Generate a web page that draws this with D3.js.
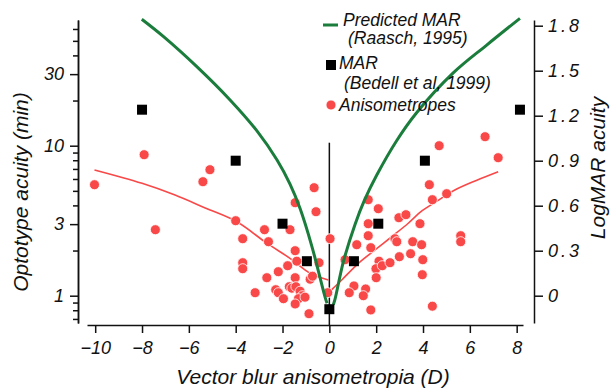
<!DOCTYPE html>
<html>
<head>
<meta charset="utf-8">
<script src="https://cdn.jsdelivr.net/npm/d3@7"></script>
<style>
  body { margin: 0; background: #fff; }
  svg { display: block; }
  text { font-family: "Liberation Sans", Arial, sans-serif; font-style: italic; fill: #111; }
</style>
</head>
<body>
<svg id="chart" width="613" height="388"></svg>
<script>
// Axis ticks
const xTicks = [-10, -8, -6, -4, -2, 0, 2, 4, 6, 8];
const leftTicks = [1, 3, 10, 30];
const leftMinorTicks = [0.7, 0.8, 0.9, 2, 4, 5, 6, 7, 8, 9, 20, 40, 50, 60];
const rightTicks = [0, 0.3, 0.6, 0.9, 1.2, 1.5, 1.8];

// Anisometropes: [vector blur (D), logMAR]
const anisometropes = [
  [-10.03, 0.74], [-7.91, 0.94], [-7.43, 0.44], [-5.40, 0.76], [-5.10, 0.84],
  [-4.00, 0.50], [-3.70, 0.38], [-3.70, 0.22], [-3.70, 0.18], [-3.17, 0.02],
  [-2.77, 0.44], [-2.60, 0.36], [-2.67, 0.12], [-2.18, 0.16], [-2.29, 0.04],
  [-2.18, 0.02], [-1.96, -0.02], [-1.78, 0.20], [-1.68, 0.44], [-1.46, 0.62],
  [-1.46, 0.30], [-1.39, 0.23], [-1.46, 0.12], [-1.71, 0.06], [-1.60, 0.05],
  [-1.43, 0.06], [-1.25, 0.03], [-1.15, 0.00], [-1.32, -0.02], [-1.04, -0.01],
  [-1.46, -0.055], [-0.82, 0.11], [-0.72, 0.13], [-0.44, 0.22], [-0.87, -0.12],
  [-0.65, 0.72], [-0.57, 0.56], [-0.07, 0.02], [0.03, 0.38],
  [0.67, 0.24], [1.17, 0.34], [1.05, 0.065], [0.85, 0.02], [1.55, 0.045],
  [1.45, 0.00], [1.77, -0.095], [1.66, 0.64], [2.09, 0.58], [1.66, 0.48],
  [1.66, 0.40], [1.77, 0.32], [2.12, 0.23], [1.99, 0.18], [2.26, 0.20],
  [2.00, 0.12], [2.59, 0.22], [2.80, 0.38], [2.88, 0.36], [2.99, 0.26],
  [2.97, 0.52], [3.27, 0.54], [3.47, 0.28], [3.56, 0.36], [3.87, 0.48],
  [3.94, 0.34], [3.99, 0.24], [3.97, 0.14], [4.40, -0.07], [4.27, 0.74],
  [4.40, 0.64], [5.01, 0.68], [5.61, 0.40], [5.61, 0.36], [4.69, 1.00],
  [6.65, 1.06], [7.21, 0.92]
];

// Bedell et al 1999 MAR
const bedellD = [-8, -4, -2, -0.96, 0, 1.05, 2.09, 4.08, 8.14];
const bedellLogMAR = [1.24, 0.90, 0.48, 0.23, -0.09, 0.23, 0.48, 0.90, 1.24];

// Predicted MAR (Raasch 1995), two branches
const raaschLeft = [
  [-8.01, 1.843], [-7.08, 1.727], [-5.66, 1.527], [-4.24, 1.305], [-3.10, 1.10],
  [-2.24, 0.906], [-1.68, 0.744], [-1.25, 0.581], [-0.75, 0.331], [-0.18, -0.011], [-0.10, -0.05]
];
const raaschRight = [
  [0.17, -0.06], [0.24, -0.025], [0.60, 0.227], [1.10, 0.477], [1.50, 0.637], [2.02, 0.803],
  [2.88, 1.035], [3.70, 1.215], [5.29, 1.485], [6.72, 1.671], [8.14, 1.849]
];

// Fitted trends to the anisometropes
const fitLeft = [
  [-10.03, 0.838], [-8.0, 0.749], [-6.59, 0.671], [-5.3, 0.585], [-3.95, 0.493],
  [-2.67, 0.35], [-1.68, 0.249], [-0.82, 0.15], [-0.04, 0.105]
];
const fitRight = [
  [0.1, 0.04], [0.53, 0.105], [1.24, 0.216], [1.95, 0.305], [2.66, 0.393],
  [3.37, 0.483], [3.95, 0.565], [4.6, 0.63], [5.3, 0.70], [6.3, 0.77], [7.21, 0.827]
];

// Reference line at zero blur, running from this logMAR down to the axis
const zeroLineTop = 1.02;

// Layout
const LEFT_AXIS_X = 78;
const RIGHT_AXIS_X = 534;
const BOTTOM_AXIS_Y = 325;
const TOP = 20, BOTTOM = 323;
const GREEN = "#1b7d3c";
const RED = "#f94848";

const svg = d3.select("#chart");

const x = d3.scaleLinear().domain([-10.35, 8.27]).range([87, 523]);
const y = d3.scaleLinear().domain([-0.182, 1.838]).range([BOTTOM, TOP]);
const yMin = d3.scaleLog().domain([Math.pow(10, -0.182), Math.pow(10, 1.838)]).range([BOTTOM, TOP]);

const styleAxis = g => {
  g.selectAll("path.domain").attr("stroke", "#111").attr("stroke-width", 1.5);
  g.selectAll(".tick line").attr("stroke", "#111").attr("stroke-width", 1.5);
  g.selectAll(".tick text").attr("font-size", 18).attr("fill", "#111")
    .attr("font-family", "Liberation Sans, Arial, sans-serif").attr("font-style", "italic");
};

// Bottom axis
svg.append("g")
  .attr("transform", `translate(0,${BOTTOM_AXIS_Y})`)
  .call(d3.axisBottom(x).tickValues(xTicks).tickSize(8).tickSizeOuter(0).tickPadding(8)
    .tickFormat(d => d < 0 ? "\u2212" + Math.abs(d) : String(d)))
  .call(styleAxis);

// Left axis (optotype acuity, log)
svg.append("g")
  .attr("transform", `translate(${LEFT_AXIS_X},0)`)
  .call(d3.axisLeft(yMin).tickValues(leftMinorTicks).tickSize(5).tickSizeOuter(0).tickFormat(""))
  .call(styleAxis);
svg.append("g")
  .attr("transform", `translate(${LEFT_AXIS_X},0)`)
  .call(d3.axisLeft(yMin).tickValues(leftTicks).tickSize(8).tickSizeOuter(0).tickPadding(6)
    .tickFormat(d3.format("d")))
  .call(styleAxis);

// Right axis (logMAR)
svg.append("g")
  .attr("transform", `translate(${RIGHT_AXIS_X},0)`)
  .call(d3.axisRight(y).tickValues(rightTicks).tickSize(9).tickSizeOuter(0).tickPadding(5)
    .tickFormat(d => d === 0 ? "0" : d.toFixed(1)))
  .call(styleAxis)
  .call(g => g.selectAll(".tick text").attr("letter-spacing", 3));

// Axis titles
svg.append("text")
  .attr("x", 313).attr("y", 384)
  .attr("text-anchor", "middle").attr("font-size", 21)
  .text("Vector blur anisometropia (D)");
svg.append("text")
  .attr("transform", "translate(28,192) rotate(-90)")
  .attr("text-anchor", "middle").attr("font-size", 21)
  .text("Optotype acuity (min)");
svg.append("text")
  .attr("transform", "translate(605,168) rotate(-90)")
  .attr("text-anchor", "middle").attr("font-size", 21)
  .text("LogMAR acuity");

// Zero blur line
svg.append("line")
  .attr("x1", x(0)).attr("x2", x(0))
  .attr("y1", y(zeroLineTop)).attr("y2", BOTTOM_AXIS_Y)
  .attr("stroke", "#111").attr("stroke-width", 1.5);

const line = d3.line().x(d => x(d[0])).y(d => y(d[1])).curve(d3.curveCatmullRom.alpha(0.5));

// Fitted red trends
[fitLeft, fitRight].forEach(pts => {
  svg.append("path")
    .attr("d", line(pts))
    .attr("fill", "none").attr("stroke", RED).attr("stroke-width", 1.6);
});

// Anisometropes
svg.append("g").selectAll("circle")
  .data(anisometropes)
  .join("circle")
  .attr("cx", d => x(d[0])).attr("cy", d => y(d[1])).attr("r", 5)
  .attr("fill", RED).attr("stroke", "#fff").attr("stroke-width", 0.8);

// Predicted MAR (green)
[raaschLeft, raaschRight].forEach(pts => {
  svg.append("path")
    .attr("d", line(pts))
    .attr("fill", "none").attr("stroke", GREEN).attr("stroke-width", 3);
});

// Bedell squares
const SQ = 10;
svg.append("g").selectAll("rect")
  .data(d3.range(bedellD.length))
  .join("rect")
  .attr("x", i => x(bedellD[i]) - SQ / 2).attr("y", i => y(bedellLogMAR[i]) - SQ / 2)
  .attr("width", SQ).attr("height", SQ).attr("fill", "#000");

// Legend
const legend = svg.append("g");
legend.append("line")
  .attr("x1", 323).attr("x2", 338).attr("y1", 25).attr("y2", 25)
  .attr("stroke", GREEN).attr("stroke-width", 3);
legend.append("text").attr("x", 343).attr("y", 26).attr("font-size", 17.5).text("Predicted MAR");
legend.append("text").attr("x", 348).attr("y", 44).attr("font-size", 17.5).text("(Raasch, 1995)");
legend.append("rect").attr("x", 326).attr("y", 60).attr("width", SQ).attr("height", SQ).attr("fill", "#000");
legend.append("text").attr("x", 339).attr("y", 69).attr("font-size", 17.5).text("MAR");
legend.append("text").attr("x", 344).attr("y", 89).attr("font-size", 17.5).text("(Bedell et al, 1999)");
legend.append("circle").attr("cx", 331).attr("cy", 105).attr("r", 5)
  .attr("fill", RED).attr("stroke", "#fff").attr("stroke-width", 0.8);
legend.append("text").attr("x", 339).attr("y", 111).attr("font-size", 17.5).text("Anisometropes");
</script>
</body>
</html>
